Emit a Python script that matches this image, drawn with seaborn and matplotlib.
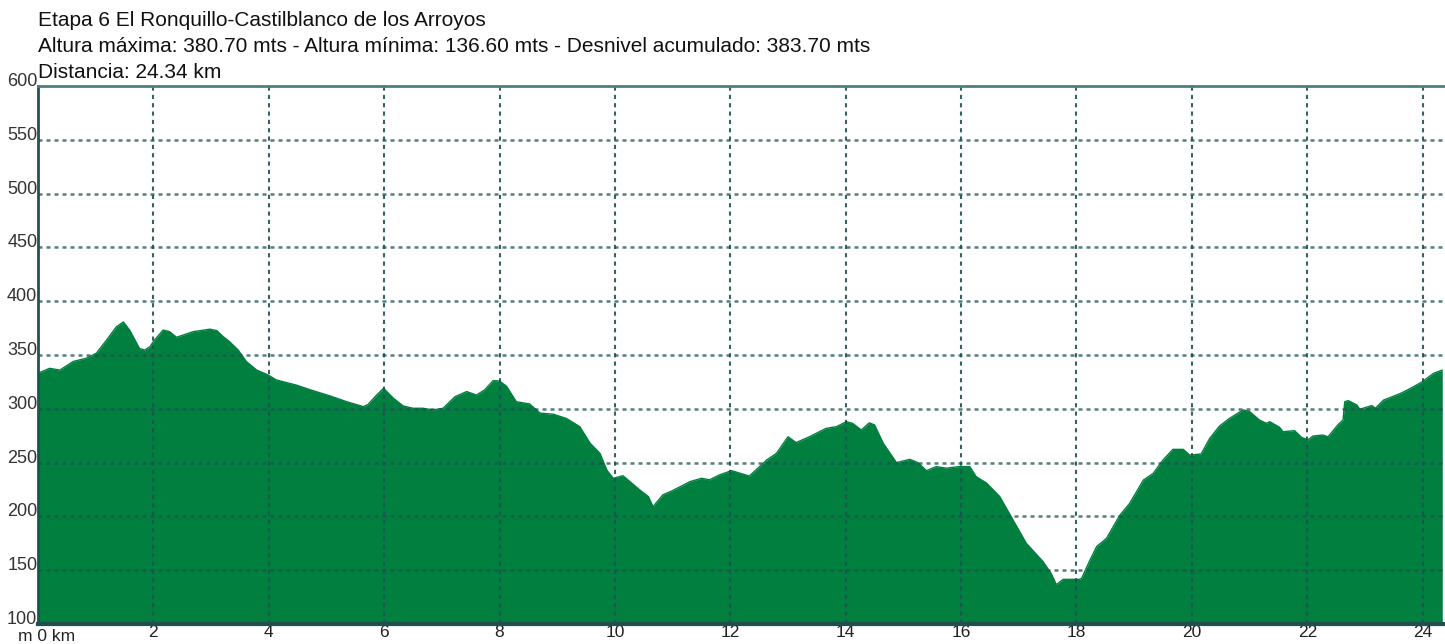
import matplotlib
matplotlib.use("Agg")
import matplotlib.pyplot as plt
import seaborn as sns
import pandas as pd

# ---- data ----
title_lines = [
    "Etapa 6 El Ronquillo-Castilblanco de los Arroyos",
    "Altura máxima: 380.70 mts - Altura mínima: 136.60 mts - Desnivel acumulado: 383.70 mts",
    "Distancia: 24.34 km",
]
distance_km = [0, 0.2, 0.38, 0.61, 0.84, 1.01, 1.19, 1.36, 1.48, 1.59,
               1.76, 1.85, 1.94, 2.02, 2.17, 2.28, 2.40, 2.52, 2.69, 2.98,
               3.10, 3.21, 3.32, 3.47, 3.61, 3.79, 3.99, 4.13, 4.48, 4.77,
               5.06, 5.35, 5.64, 5.72, 5.87, 5.99, 6.16, 6.33, 6.50, 6.67,
               6.85, 7.02, 7.23, 7.43, 7.60, 7.74, 7.89, 8.00, 8.12, 8.29,
               8.52, 8.70, 8.93, 9.16, 9.39, 9.57, 9.74, 9.86, 9.97, 10.14,
               10.26, 10.43, 10.58, 10.66, 10.83, 11.00, 11.30, 11.50, 11.64, 11.81,
               12.02, 12.33, 12.63, 12.80, 13.00, 13.14, 13.37, 13.66, 13.84, 14.01,
               14.12, 14.27, 14.41, 14.50, 14.65, 14.88, 15.11, 15.25, 15.40, 15.57,
               15.74, 15.97, 16.15, 16.26, 16.44, 16.67, 16.90, 17.13, 17.42, 17.56,
               17.65, 17.77, 18.05, 18.09, 18.23, 18.35, 18.52, 18.75, 18.92, 19.16,
               19.33, 19.50, 19.67, 19.85, 19.96, 20.16, 20.31, 20.48, 20.65, 20.89,
               21.00, 21.17, 21.29, 21.35, 21.52, 21.58, 21.78, 21.90, 22.01, 22.10,
               22.27, 22.36, 22.53, 22.62, 22.65, 22.71, 22.86, 22.91, 23.12, 23.18,
               23.32, 23.62, 23.79, 23.99, 24.19, 24.34]
elevation_m = [333, 337.6, 336, 344, 347, 351.6, 364, 376.3, 380.7, 373,
               356, 354.6, 357.7, 364, 373.2, 371.7, 366.5, 368.6, 371.7, 374,
               372.6, 367, 362.4, 354.6, 344, 336, 331.4, 326.8, 322, 316.8,
               312, 306.6, 302, 304, 312.8, 319, 309.8, 302.6, 300.5, 300.5,
               299, 300.5, 311.3, 316, 312.8, 317.5, 326.2, 325.8, 321, 306.6,
               304.5, 296, 295, 291, 283.4, 268, 258.6, 243, 235.4, 237.8,
               232.3, 224.6, 218.4, 209, 220, 224, 232.3, 235.4, 234, 238.5,
               242.5, 237.5, 252.4, 258.6, 274, 268.6, 274, 281.8, 283.4, 288,
               286.5, 280.3, 287, 285, 268, 250, 253, 250, 242.5, 246.3,
               244.8, 246.3, 246.3, 237, 231, 218.4, 196.7, 175, 158, 147,
               136.6, 141.5, 141.5, 142.5, 159, 172, 179.6, 201, 212, 233.8,
               240, 252.4, 262.3, 262.3, 257, 258, 272.6, 284, 291, 299,
               297.4, 289.6, 286.5, 288, 282.8, 278.7, 279.7, 273.5, 271, 274.7,
               275.6, 274, 285, 289.6, 306.6, 307.6, 303.5, 299.6, 303, 300.5,
               308, 314.4, 319, 325, 333, 336]
x_ticks = [0, 2, 4, 6, 8, 10, 12, 14, 16, 18, 20, 22, 24]
x_tick_labels = ["", "2", "4", "6", "8", "10", "12", "14", "16", "18", "20", "22", "24"]
y_ticks = [100, 150, 200, 250, 300, 350, 400, 450, 500, 550, 600]

df = pd.DataFrame({"km": distance_km, "m": elevation_m})

sns.set_theme(style="white")
plt.rcParams["font.family"] = ["Liberation Sans", "DejaVu Sans"]

W, H = 1445, 644
fig = plt.figure(figsize=(W / 100, H / 100), dpi=100)
ax = fig.add_axes([38 / W, 1 - 624 / H, (1444 - 38) / W, (624 - 86) / H])

green = "#007F3F"
ax.fill_between(df["km"], 100, df["m"], color=green, linewidth=0, zorder=1)
sns.lineplot(data=df, x="km", y="m", ax=ax, color=green, linewidth=1.0, zorder=2)

ax.set_xlim(0, 24.37)
ax.set_ylim(100, 600)

grid_col = "#1f5252"
for yv in y_ticks[1:-1]:
    ax.axhline(yv, color=grid_col, alpha=0.75, linewidth=1.8,
               linestyle=(0, (1.6, 1.6)), zorder=3)
for xv in x_ticks[1:]:
    ax.axvline(xv, color=grid_col, alpha=0.9, linewidth=1.5,
               linestyle=(0, (2, 2)), zorder=3)

ax.set_xticks(x_ticks)
ax.set_xticklabels(x_tick_labels)
ax.set_yticks(y_ticks)
ax.set_yticklabels([])
ax.tick_params(axis="x", length=0, pad=1, labelsize=12.5, labelcolor="#222222")
ax.tick_params(axis="y", length=0)
ax.set_xlabel("")
ax.set_ylabel("")

for yv in y_ticks:
    ax.text(-0.0005, yv, str(yv), transform=ax.get_yaxis_transform(),
            ha="right", va="baseline", fontsize=13, color="#333333")
fig.text(18 / W, 1 - 641 / H, "m 0 km", ha="left", va="baseline",
         fontsize=12.5, color="#222222")

ax.spines["right"].set_visible(False)
ax.spines["left"].set_color("#1f5252")
ax.spines["left"].set_linewidth(2)
ax.spines["top"].set_color("#4f7f7f")
ax.spines["top"].set_linewidth(2)
ax.spines["bottom"].set_color("#1f5050")
ax.spines["bottom"].set_linewidth(3)
for s in ax.spines.values():
    s.set_zorder(5)

for i, line in enumerate(title_lines):
    fig.text(38 / W, 1 - (26 + 26 * i) / H, line, ha="left", va="baseline",
             fontsize=15, color="#111111")

fig.savefig("out.png", dpi=100)
